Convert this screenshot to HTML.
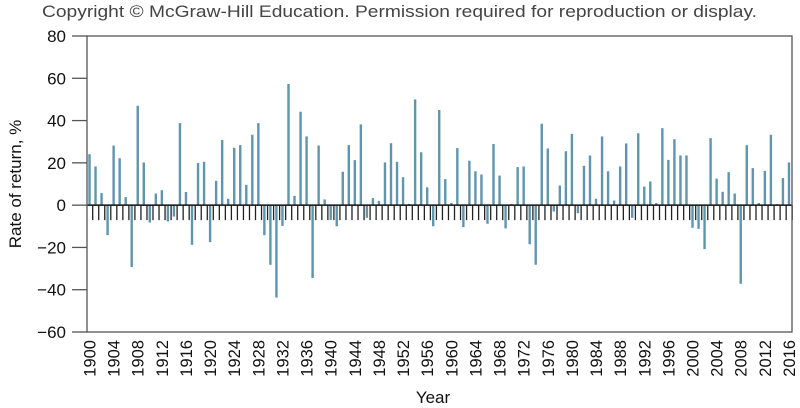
<!DOCTYPE html>
<html><head><meta charset="utf-8"><style>
body{margin:0;background:#fff;}
svg{display:block;font-family:"Liberation Sans",Arial,sans-serif;}
</style></head><body>
<svg id="chart" width="800" height="408" viewBox="0 0 800 408">
<text x="42" y="17" font-size="17" fill="#444" textLength="715" lengthAdjust="spacingAndGlyphs">Copyright © McGraw-Hill Education. Permission required for reproduction or display.</text>
<g id="grid"></g>
<g id="bars"></g>
<g id="axes"></g>
<text x="433" y="403" text-anchor="middle" font-size="17" fill="#111">Year</text>
<text transform="translate(21,184) rotate(-90)" text-anchor="middle" font-size="17" fill="#111">Rate of return, %</text>
</svg>
<script>
const startYear = 1900;
const returns = [24.1,18.3,5.7,-14.2,28.2,22.2,3.8,-29.3,47,20.2,-8.2,5.5,7.1,-7.7,-5.4,38.8,6.2,-18.8,19.9,20.5,
-17.5,11.5,30.8,3,27.1,28.4,9.6,33.3,38.8,-14.2,-28.2,-43.7,-9.8,57.3,4.4,44.2,32.5,-34.5,28.2,2.7,
-7,-10,15.8,28.4,21.3,38.2,-6,3.3,2,20.2,29.3,20.5,13.2,0.6,50,25,8.4,-10,45,12.3,
1,27,-10.4,21,16,14.5,-8.8,28.9,14,-11,0.5,18,18.3,-18.5,-28.2,38.5,26.8,-3,9.3,25.5,
33.7,-3.8,18.6,23.5,3,32.5,16,2.2,18.3,29.2,-6,34,8.8,11.2,1,36.4,21.4,31.2,23.5,23.5,
-10.7,-11.2,-20.8,31.7,12.5,6.3,15.6,5.5,-37.2,28.4,17.5,1,16.2,33.3,0.5,12.8,20.2];
const yTicks = [-60,-40,-20,0,20,40,60,80];
const L=87,R=792,T=36,B=332,yMin=-60,yMax=80;
const y=v=>T+(yMax-v)*(B-T)/(yMax-yMin);
const x=i=>89.5+i*6.03;
const NS="http://www.w3.org/2000/svg";
function mk(tag,attrs,parent){const e=document.createElementNS(NS,tag);for(const k in attrs)e.setAttribute(k,attrs[k]);parent.appendChild(e);return e;}
const gb=document.getElementById('bars'),ga=document.getElementById('axes');
for(let i=0;i<returns.length;i++){
  const t=mk('line',{x1:x(i)+3.2,x2:x(i)+3.2,y1:y(0),y2:y(0)+15,stroke:'#222','stroke-width':1.3},gb);
  
  
}
returns.forEach((v,i)=>{
  const r=mk('rect',{x:x(i)-1.2,y:Math.min(y(v),y(0)),width:2.4,height:Math.abs(y(v)-y(0)),fill:'#5f95ad'},gb);
  
  
});
const zl=mk('line',{x1:L,x2:R,y1:y(0),y2:y(0),stroke:'#111','stroke-width':1.5},ga);


const fr=mk('rect',{x:L,y:T,width:R-L,height:B-T,fill:'none',stroke:'#555','stroke-width':1.3},ga);


yTicks.forEach(v=>{
  const tl=mk('line',{x1:72,x2:L,y1:y(v),y2:y(v),stroke:'#555','stroke-width':1.3},ga);
  
  
  const t=mk('text',{x:66,y:y(v)+6,'text-anchor':'end','font-size':17,fill:'#111'},ga);
  t.textContent=v<0?'\u2212'+(-v):String(v);
  
  
});
for(let i=0;i<returns.length;i+=4){
  const t=mk('text',{transform:`translate(${x(i)+6},340) rotate(-90)`,'text-anchor':'end','font-size':16.5,fill:'#111'},ga);
  t.textContent=String(startYear+i);
  
  
}
</script>
</body></html>
